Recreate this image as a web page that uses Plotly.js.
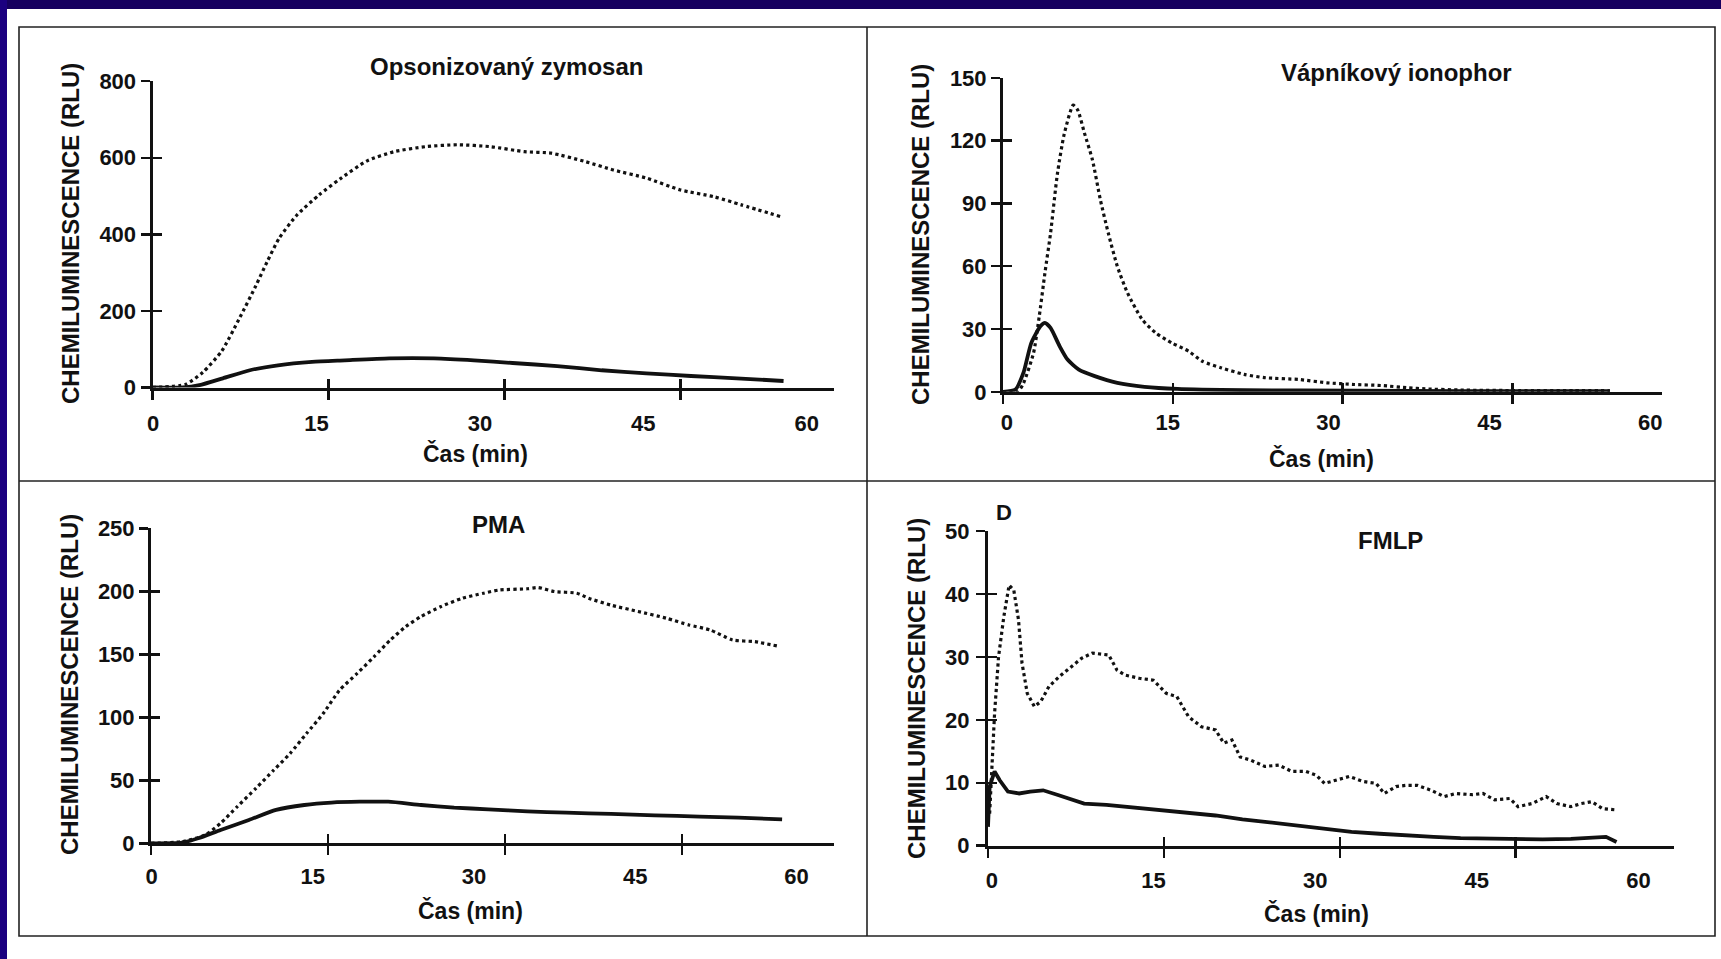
<!DOCTYPE html>
<html><head><meta charset="utf-8">
<script src="https://cdn.plot.ly/plotly-3.0.1.min.js"></script>
<style>html,body{margin:0;padding:0;background:#fff;overflow:hidden}#chart{width:1721px;height:959px}</style>
</head><body><div id="chart"></div>
<script>
// ---------------- DATA ----------------
const xTickVals = [0, 15, 30, 45, 60];
const xTickText = ['0', '15', '30', '45', '60'];
const xTickMarks = [0, 15, 30, 45];

// Panel A: Opsonizovaný zymosan
const zymTimeDotted = [0,2.8,4.3,5.9,7.4,8.8,9.8,10.8,12.3,14.2,16,18.3,20.6,23.3,26,28.8,31.7,34,36.9,39.3,42.1,45,47.9,50.2,53.6];
const zymDotted     = [0,8,40,95,180,265,330,390,450,503,545,592,616,629,634,629,616,612,590,568,547,516,498,477,446];
const zymTimeSolid  = [0,2.6,4,6,8.3,10.7,13.6,16.4,20.2,24,27.4,30.7,34.5,38.3,42.1,45.9,49.8,53.8];
const zymSolid      = [0,0,6,24,45,58,67,71,76,76,71,64,56,45,37,30,24,17];
const zymYTicks     = [0, 200, 400, 600, 800];

// Panel B: Vápníkový ionophor
const caTimeDotted = [0,1.3,1.8,2.7,3.2,3.7,4.2,4.8,5.4,6.2,6.6,7.2,7.9,8.6,9.3,10.1,11,12.3,13.5,14.9,16.4,17.6,19.3,21.3,23.2,26.1,28.6,31,33.4,35.8,37.3,40.7,45.6,50.4,53.6];
const caDotted     = [0,0,4,18.6,36,56.7,75.8,104,123,137,134.6,123.5,110.8,91.7,75.8,59.9,47.2,34.5,28.1,23.4,19.4,14.6,11.4,8.3,6.7,5.9,4.3,3.5,3,1.9,1.4,0.8,0.6,0.6,0.5];
const caTimeSolid  = [0,1.1,1.8,2.5,3.3,3.7,4.2,5,5.7,6.7,8.1,10.1,12.5,15.4,21.3,31,40.7,53.6];
const caSolid      = [0,1.1,9,23.4,31.3,32.9,30.5,21.8,15.4,10.6,7.5,4.3,2.4,1.4,0.8,0.5,0.3,0.3];
const caYTicks     = [0, 30, 60, 90, 120, 150];

// Panel C: PMA
const pmaTimeDotted = [0,2.6,4.6,5.9,7.3,8.9,10.4,11.8,13.2,14.6,16,17.5,18.9,20.3,21.6,22.9,24.6,26.4,28.2,29.5,31.9,32.8,34.2,36.1,37.1,39,41.3,43.7,45.6,47.4,49.3,51.2,53.1];
const pmaDotted     = [0,1.3,6.6,15.9,29,43.7,58,71.4,87.3,103,121.7,135,148,161.4,172,180,188,194.5,198.5,201,202,203,199.8,198.5,194.5,189,184,178.6,173.3,169.3,161.4,160,156.6];
const pmaTimeSolid  = [0,2.6,4,5.9,8.3,10.6,13,15.3,17.7,20.1,22.9,25.7,28.6,31.9,35.2,39,42.7,46.5,49.8,53.5];
const pmaSolid      = [0,0.5,4,10.6,18.5,26.5,30.4,32.3,33,33,30.4,28.3,27,25.4,24.3,23.3,22.2,21.2,20.4,19];
const pmaYTicks     = [0, 50, 100, 150, 200, 250];

// Panel D: FMLP
const fmlpTimeDotted = [0.14,0.33,0.56,0.9,1.35,1.8,2.2,2.6,2.9,3.35,3.96,4.5,5.2,6.1,7.1,8,8.9,10.3,11,11.7,12.9,14.1,15.2,16.1,17.1,18.2,19.4,20.1,20.8,21.5,22.4,23.6,24.8,25.9,27.1,28,28.7,29.6,30.8,32,33.1,33.8,34.8,35.7,36.6,37.8,38.9,39.9,41.3,42.2,43.2,44.5,45.2,46.4,47.6,48.5,49.7,50.6,51.5,52.4,53.5];
const fmlpDotted     = [5.1,13.1,21,30,36.4,41.4,40.6,35.9,29,24.2,22.1,22.9,25.3,26.9,28.4,29.8,30.6,30.3,27.9,27.1,26.6,26.3,24.2,23.7,20.5,18.9,18.4,16.3,16.8,14.1,13.6,12.6,12.8,11.8,11.8,11.2,9.9,10.4,11,10.2,9.9,8.3,9.4,9.6,9.6,8.8,7.8,8.3,8.1,8.3,7.3,7.5,6.2,6.7,7.8,6.7,6.2,6.7,7,5.9,5.7];
const fmlpTimeSolid  = [0,0.14,0.56,1,1.7,2.65,3.6,4.7,5.9,7.1,8.2,10.1,12.4,14.8,17.1,19.4,21.7,24.1,26.4,28.7,31,33.4,35.7,38,40.3,42.7,45,47.3,49.7,51.5,52.7,53.6];
const fmlpSolid      = [3,9.4,11.8,10.4,8.6,8.3,8.6,8.8,8.1,7.3,6.7,6.5,6.1,5.7,5.3,4.8,4.2,3.7,3.2,2.6,2.2,1.9,1.6,1.4,1.2,1.1,1,1,1.1,1.3,1.4,0.6];
const fmlpYTicks     = [0, 10, 20, 30, 40, 50];

const panelTitles = ['Opsonizovaný zymosan', 'Vápníkový ionophor', 'PMA', 'FMLP'];
const yTitle = 'CHEMILUMINESCENCE (RLU)';
const xTitle = 'Čas (min)';

// ---------------- LAYOUT HELPERS ----------------
const W = 1721, H = 959;
const px = v => v / W;
const py = v => 1 - v / H;
const FONT = 'Liberation Sans, Arial, sans-serif';
const INK = '#111111';

const panels = [
  {xd:[152.5,834], yd:[81.2,387.5], xr:[0,58.1], yr:[0,800], yt:zymYTicks, lr:[-0.05,62.5], ls:20, ys:2.5,
   td:[zymTimeDotted,zymDotted], ts:[zymTimeSolid,zymSolid], spline:true,
   title:[506,66], xt:[475,453], ytp:[70,234]},
  {xd:[1003,1662], yd:[77.9,391.8], xr:[0,58.2], yr:[0,150], yt:caYTicks, lr:[-0.37,61.1], ls:15, ys:0.5,
   td:[caTimeDotted,caDotted], ts:[caTimeSolid,caSolid], spline:true,
   title:[1396,72], xt:[1321,458], ytp:[920,235]},
  {xd:[151,834], yd:[528.3,843.3], xr:[0,57.9], yr:[0,250], yt:pmaYTicks, lr:[-0.05,63.5], ls:18, ys:1.5,
   td:[pmaTimeDotted,pmaDotted], ts:[pmaTimeSolid,pmaSolid], spline:true,
   title:[499,524], xt:[470,910], ytp:[69,685]},
  {xd:[988,1674], yd:[531,845.7], xr:[0,58.5], yr:[0,50], yt:fmlpYTicks, lr:[-0.37,63.3], ls:19, ys:2,
   td:[fmlpTimeDotted,fmlpDotted], ts:[fmlpTimeSolid,fmlpSolid], spline:false,
   title:[1390,540], xt:[1316,913], ytp:[916,688]}
];

const traces = [];
const layout = {
  width: W, height: H, autosize: false,
  margin: {l:0, r:0, t:0, b:0, pad:0},
  paper_bgcolor: '#ffffff', plot_bgcolor: 'rgba(0,0,0,0)',
  showlegend: false,
  font: {family: FONT, color: INK, size: 22, weight: 'bold'},
  annotations: [], shapes: []
};

const tickFont = {family: FONT, size: 22, color: INK, weight: 'bold'};

panels.forEach((p, i) => {
  const n = i + 1;
  const xid = n === 1 ? '' : String(n);
  const xk = 'xaxis' + xid, yk = 'yaxis' + xid;
  const xref = 'x' + xid, yref = 'y' + xid;
  const xIn = n + 4, xLab = n + 8, yIn = n + 4;

  layout[xk] = {
    domain: [px(p.xd[0]), px(p.xd[1])], anchor: yref, range: p.xr, fixedrange: true,
    showline: true, linecolor: INK, linewidth: 3,
    tickmode: 'array', tickvals: xTickMarks, ticks: 'outside', ticklen: 9, tickwidth: 2.5, tickcolor: INK,
    showticklabels: false, showgrid: false, zeroline: false
  };
  layout['xaxis' + xIn] = {
    overlaying: xref, anchor: yref, range: p.xr, fixedrange: true,
    showline: false, tickmode: 'array', tickvals: xTickMarks, ticks: 'inside', ticklen: 9, tickwidth: 2.5, tickcolor: INK,
    showticklabels: false, showgrid: false, zeroline: false
  };
  layout['xaxis' + xLab] = {
    overlaying: xref, anchor: yref, range: p.lr, fixedrange: true,
    showline: false, ticks: '', tickmode: 'array', tickvals: xTickVals, ticktext: xTickText,
    tickfont: tickFont, ticklabelstandoff: p.ls, showgrid: false, zeroline: false
  };
  layout[yk] = {
    domain: [py(p.yd[1]), py(p.yd[0])], anchor: xref, range: p.yr, fixedrange: true,
    showline: true, linecolor: INK, linewidth: 3,
    tickmode: 'array', tickvals: p.yt, ticks: 'outside', ticklen: 9, tickwidth: 2.5, tickcolor: INK,
    tickfont: tickFont, ticklabelstandoff: p.ys, showgrid: false, zeroline: false
  };
  layout['yaxis' + yIn] = {
    overlaying: yref, anchor: xref, side: 'left', range: p.yr, fixedrange: true,
    showline: false, tickmode: 'array', tickvals: p.yt, ticks: 'inside', ticklen: 9, tickwidth: 2.5, tickcolor: INK,
    showticklabels: false, showgrid: false, zeroline: false
  };

  const lineShape = p.spline ? 'spline' : 'linear';
  traces.push({
    type: 'scatter', mode: 'lines', x: p.td[0], y: p.td[1], xaxis: xref, yaxis: yref,
    line: {color: INK, width: 3.2, dash: 'dot', shape: lineShape, smoothing: 0.6},
    hoverinfo: 'skip'
  });
  traces.push({
    type: 'scatter', mode: 'lines', x: p.ts[0], y: p.ts[1], xaxis: xref, yaxis: yref,
    line: {color: INK, width: 3.8, shape: lineShape, smoothing: 0.6},
    hoverinfo: 'skip'
  });
  // transparent copies of the solid series so that the overlay tick/label axes get drawn
  [['x' + xIn, yref], ['x' + xLab, yref], [xref, 'y' + yIn]].forEach(([xa, ya]) => {
    traces.push({
      type: 'scatter', mode: 'lines', x: p.ts[0], y: p.ts[1], xaxis: xa, yaxis: ya,
      line: {color: 'rgba(0,0,0,0)', width: 0}, opacity: 0, hoverinfo: 'skip'
    });
  });

  layout.annotations.push({
    text: panelTitles[i], xref: 'paper', yref: 'paper', x: px(p.title[0]), y: py(p.title[1]),
    xanchor: 'center', yanchor: 'middle', showarrow: false,
    font: {family: FONT, size: 24, color: INK, weight: 'bold'}
  });
  layout.annotations.push({
    text: xTitle, xref: 'paper', yref: 'paper', x: px(p.xt[0]), y: py(p.xt[1]),
    xanchor: 'center', yanchor: 'middle', showarrow: false,
    font: {family: FONT, size: 23, color: INK, weight: 'bold'}
  });
  layout.annotations.push({
    text: yTitle, xref: 'paper', yref: 'paper', x: px(p.ytp[0]), y: py(p.ytp[1]),
    xanchor: 'center', yanchor: 'middle', showarrow: false, textangle: -90,
    font: {family: FONT, size: 24, color: INK, weight: 'bold'}
  });
});

// panel letter
layout.annotations.push({
  text: 'D', xref: 'paper', yref: 'paper', x: px(1004), y: py(512),
  xanchor: 'center', yanchor: 'middle', showarrow: false,
  font: {family: FONT, size: 22, color: INK, weight: 'bold'}
});

// page decorations: navy bands and panel frames
layout.shapes.push(
  {type:'rect', xref:'paper', yref:'paper', x0:0, x1:1, y0:py(9), y1:1, fillcolor:'#16005f', line:{width:0}, layer:'below'},
  {type:'rect', xref:'paper', yref:'paper', x0:0, x1:px(7), y0:0, y1:1, fillcolor:'#1b0080', line:{width:0}, layer:'below'},
  {type:'rect', xref:'paper', yref:'paper', x0:px(19), x1:px(1715), y0:py(936), y1:py(27), line:{color:'#222', width:1.6}, layer:'below'},
  {type:'line', xref:'paper', yref:'paper', x0:px(867), x1:px(867), y0:py(936), y1:py(27), line:{color:'#222', width:1.6}, layer:'below'},
  {type:'line', xref:'paper', yref:'paper', x0:px(19), x1:px(1715), y0:py(481), y1:py(481), line:{color:'#222', width:1.6}, layer:'below'}
);

Plotly.newPlot('chart', traces, layout, {displayModeBar: false, staticPlot: true});
</script></body></html>
